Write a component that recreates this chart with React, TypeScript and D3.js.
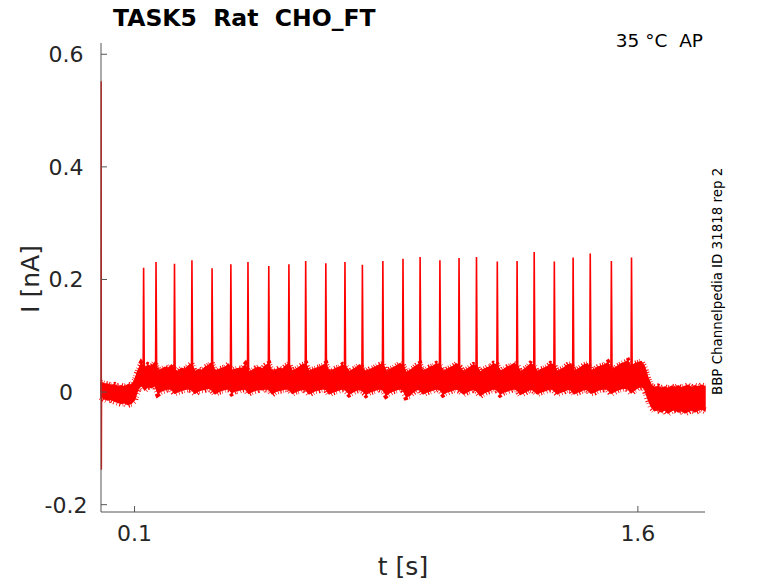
import * as d3 from "d3";

const SAMPLE_STEP = 0.01; // s between envelope samples
// upper / lower edge of the noise band, in pA
const upperPA = [
  17, 15, 14, 12, 13, 10, 11, 9, 13, 12,
  20, 38, 50, 42, 48, 45, 52, 38, 40, 44,
  42, 48, 40, 36, 42, 40, 46, 50, 36, 40,
  38, 44, 47, 52, 36, 40, 42, 44, 49, 38,
  40, 42, 41, 48, 35, 38, 42, 44, 40, 47,
  50, 36, 39, 42, 40, 46, 50, 37, 40, 44,
  48, 50, 36, 40, 42, 44, 47, 50, 36, 39,
  42, 44, 48, 45, 36, 40, 43, 48, 42, 36,
  40, 42, 45, 48, 50, 36, 40, 43, 46, 50,
  48, 34, 38, 42, 47, 50, 37, 40, 44, 46,
  50, 48, 36, 40, 43, 46, 50, 44, 36, 40,
  44, 48, 46, 35, 40, 43, 45, 50, 48, 37,
  40, 44, 46, 50, 48, 36, 40, 44, 50, 47,
  36, 40, 42, 45, 50, 48, 36, 40, 43, 48,
  50, 37, 40, 44, 48, 50, 38, 40, 44, 46,
  48, 52, 40, 42, 46, 50, 52, 55, 44, 50,
  52, 54, 45, 25, 12, 8, 10, 7, 9, 6,
  10, 8, 11, 7, 10, 12, 8, 11, 9, 12,
  10,
];
const lowerPA = [
  -8, -12, -14, -13, -16, -18, -20, -19, -22, -20,
  -14, 5, 14, 4, 10, 8, 12, -2, 2, 4,
  6, 5, -2, 1, 3, 5, 6, 4, -2, 2,
  4, 5, 7, 4, -3, 1, 3, 5, 6, -1,
  2, 3, 5, 6, -2, 1, 3, 5, 4, 6,
  5, -3, 1, 3, 4, 6, 5, -2, 1, 3,
  5, 4, -3, 0, 3, 4, 6, 5, -3, 0,
  2, 4, 6, 3, -3, 0, 3, 5, 2, -4,
  0, 2, 4, 6, 4, -5, -1, 2, 4, 6,
  4, -8, -6, 0, 4, 5, -3, 0, 2, 4,
  6, 4, -3, 0, 2, 4, 6, 2, -3, 0,
  3, 5, 2, -6, -2, 1, 3, 6, 4, -3,
  0, 2, 4, 6, 4, -4, -1, 2, 5, 3,
  -3, 0, 2, 4, 6, 3, -3, 0, 2, 5,
  4, -3, 0, 2, 5, 4, -2, 0, 3, 5,
  6, 5, -2, 1, 4, 6, 7, 6, -1, 4,
  8, 10, 6, -12, -26, -33, -31, -35, -31, -37,
  -33, -31, -35, -32, -37, -34, -31, -35, -32, -30,
  -33,
];

// action potentials
const spikeTimes = [
  0.127, 0.164, 0.219, 0.271, 0.331, 0.387, 0.438, 0.5, 0.56, 0.61, 0.67,
  0.727, 0.779, 0.84, 0.9, 0.951, 1.01, 1.067, 1.119, 1.181, 1.24, 1.291,
  1.351, 1.407, 1.458, 1.521, 1.581,
];
const spikePeaks = [
  0.221, 0.231, 0.228, 0.234, 0.22, 0.227, 0.231, 0.224, 0.227, 0.233, 0.229,
  0.231, 0.226, 0.233, 0.237, 0.24, 0.234, 0.238, 0.24, 0.232, 0.233, 0.249,
  0.232, 0.239, 0.246, 0.233, 0.239,
];
const spikeBase = 0.03;

// capacitive transient at t = 0
const transientTimes = [0, 0.0006, 0.0012, 0.0018, 0.003];
const transientValues = [0, 0.552, -0.138, 0.01, -0.005];

const xTicks = [0.1, 1.6];
const yTicks = [-0.2, 0, 0.2, 0.4, 0.6];

const W = 778;
const H = 583;
const margin = { left: 101, right: 73, top: 43, bottom: 71 };
const FONT = "DejaVu Sans, sans-serif";
const AXIS = "#555555";
const TEXT = "#262626";
const RED = "#ff0000";

export default function App() {
  const x = d3
    .scaleLinear()
    .domain([0, 1.8])
    .range([margin.left, W - margin.right]);
  const y = d3
    .scaleLinear()
    .domain([-0.213, 0.62])
    .range([H - margin.bottom, margin.top]);

  const traceTimes = upperPA.map((_, i) => i * SAMPLE_STEP);

  const band = d3
    .area<number>()
    .x((t) => x(t))
    .y0((_, i) => y(lowerPA[i] / 1000))
    .y1((_, i) => y(upperPA[i] / 1000))(traceTimes);

  const edge = (vals: number[]) =>
    d3
      .line<number>()
      .x((t) => x(t))
      .y((_, i) => y(vals[i] / 1000))(traceTimes) ?? undefined;

  const line = d3
    .line<[number, number]>()
    .x((d) => x(d[0]))
    .y((d) => y(d[1]));

  const transient = line(
    transientTimes.map((t, i) => [t, transientValues[i]] as [number, number])
  );

  const x0 = margin.left;
  const x1 = W - margin.right;
  const y0 = H - margin.bottom;
  const y1 = margin.top;

  return (
    <svg
      width={W}
      height={H}
      style={{ position: "absolute", left: 0, top: 0, display: "block" }}
      fontFamily={FONT}
    >
      <rect width={W} height={H} fill="#fff" />

      {/* trace: noise band, ragged edges, spikes */}
      <path d={band ?? undefined} fill={RED} stroke={RED} strokeWidth={1.5} />
      <path
        d={edge(upperPA)}
        fill="none"
        stroke={RED}
        strokeWidth={6}
        strokeDasharray="0.9 1.6 0.6 2.4 1.1 1.3"
      />
      <path
        d={edge(lowerPA)}
        fill="none"
        stroke={RED}
        strokeWidth={7}
        strokeDasharray="0.7 2.1 1.2 1.4 0.6 2.8"
      />
      {spikeTimes.map((t, i) => (
        <path
          key={i}
          d={
            line([
              [t - 0.0014, spikeBase],
              [t, spikePeaks[i]],
              [t + 0.0022, spikeBase - 0.025],
            ]) ?? undefined
          }
          fill="none"
          stroke={RED}
          strokeWidth={1.6}
        />
      ))}
      <path d={transient ?? undefined} fill="none" stroke={RED} strokeWidth={1.4} />

      {/* axes */}
      <line x1={x0} x2={x0} y1={y1} y2={y0} stroke={AXIS} />
      <line x1={x0} x2={x1} y1={y0} y2={y0} stroke={AXIS} />
      {yTicks.map((v) => (
        <g key={v}>
          <line x1={x0} x2={x0 + 6} y1={y(v)} y2={y(v)} stroke={AXIS} />
          <text
            x={66}
            y={y(v)}
            dy="0.36em"
            textAnchor="middle"
            fontSize={22}
            fill={TEXT}
          >
            {v === 0 ? "0" : d3.format(".1f")(v).replace("−", "-")}
          </text>
        </g>
      ))}
      {xTicks.map((v) => (
        <g key={v}>
          <line x1={x(v)} x2={x(v)} y1={y0} y2={y0 - 6} stroke={AXIS} />
          <text
            x={x(v)}
            y={541}
            textAnchor="middle"
            fontSize={22}
            fill={TEXT}
          >
            {d3.format(".1f")(v)}
          </text>
        </g>
      ))}

      {/* labels */}
      <text
        x={113}
        y={26}
        fontSize={23.5}
        fontWeight="bold"
        fill="#000"
        style={{ whiteSpace: "pre" }}
      >
        {"TASK5  Rat  CHO_FT"}
      </text>
      <text
        x={703}
        y={47}
        textAnchor="end"
        fontSize={18.5}
        fill="#000"
        style={{ whiteSpace: "pre" }}
      >
        {"35 °C  AP"}
      </text>
      <text
        transform="translate(39,279) rotate(-90)"
        textAnchor="middle"
        fontSize={25}
        fill={TEXT}
      >
        I [nA]
      </text>
      <text x={403} y={575} textAnchor="middle" fontSize={25} fill={TEXT}>
        t [s]
      </text>
      <text
        transform="translate(722,395) rotate(-90)"
        fontSize={13.4}
        fill="#000"
      >
        BBP Channelpedia ID 31818 rep 2
      </text>
    </svg>
  );
}
